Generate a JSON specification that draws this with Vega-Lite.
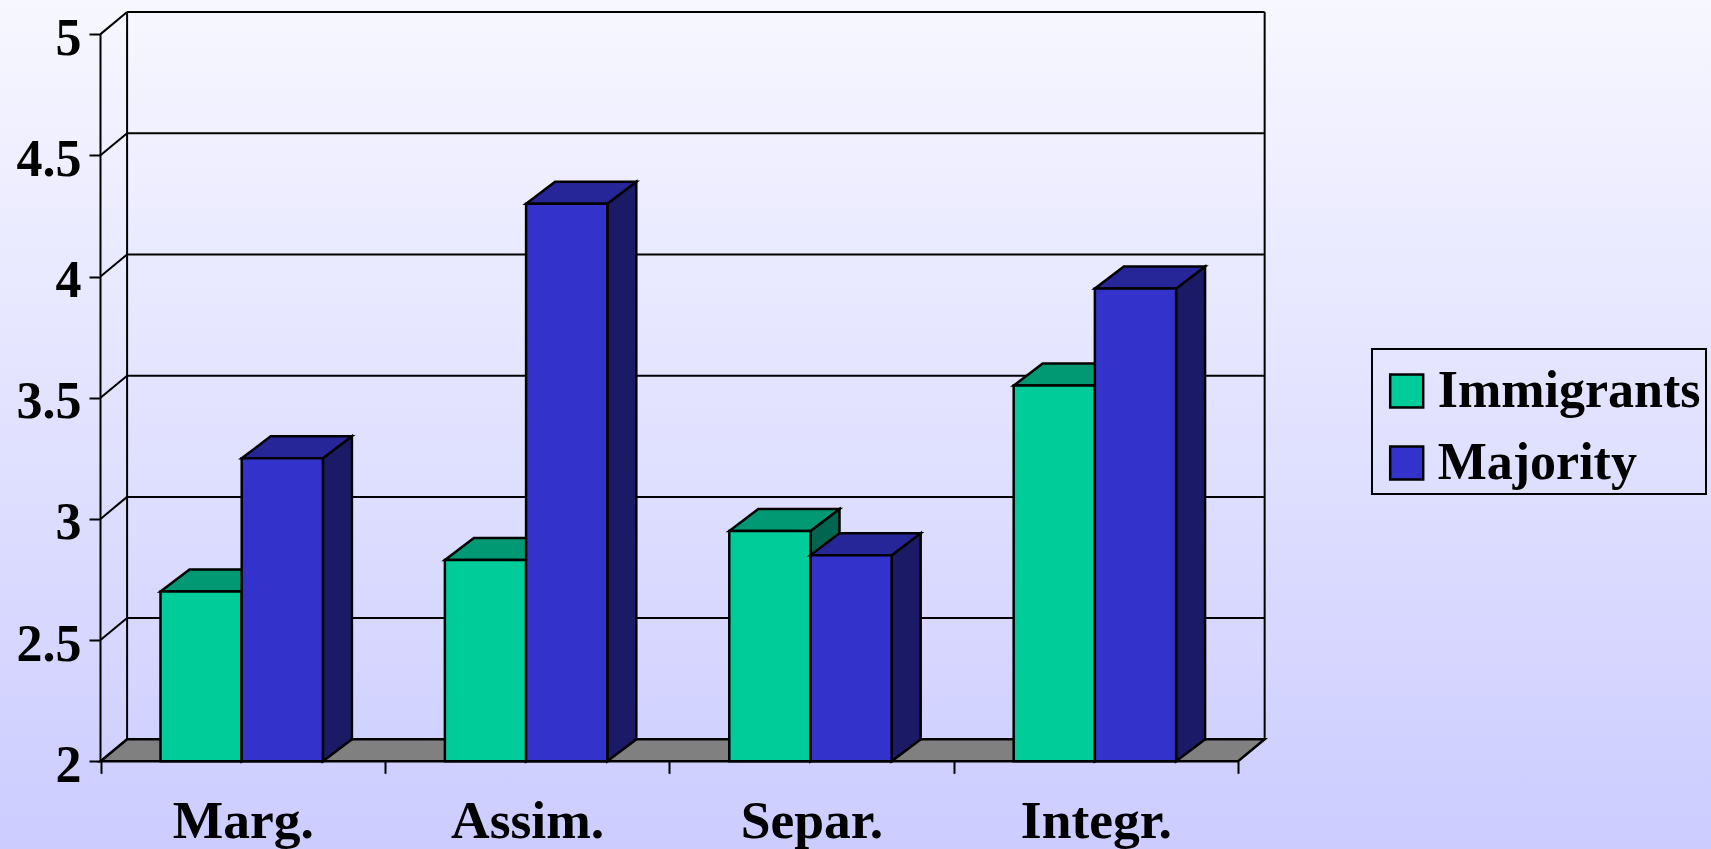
{
"$schema":"https://vega.github.io/schema/vega-lite/v6.json",
"width":1711,"height":849,"autosize":"none","padding":0,"background":"#CCCCFF",
"view":{"stroke":null,"fill":{"gradient":"linear","x1":0,"y1":0,"x2":0,"y2":1,"stops":[{"offset":0,"color":"#F7F7FF"},{"offset":1,"color":"#CCCCFF"}]}},
"config":{"font":"Liberation Serif","legend":{"strokeWidth":2}},
"datasets":{"bars":[
{"category":"Marg.","series":"Immigrants","value":2.70},
{"category":"Marg.","series":"Majority","value":3.25},
{"category":"Assim.","series":"Immigrants","value":2.83},
{"category":"Assim.","series":"Majority","value":4.30},
{"category":"Separ.","series":"Immigrants","value":2.95},
{"category":"Separ.","series":"Majority","value":2.85},
{"category":"Integr.","series":"Immigrants","value":3.55},
{"category":"Integr.","series":"Majority","value":3.95}
],
"levels":[{"level":2},{"level":2.5},{"level":3},{"level":3.5},{"level":4},{"level":4.5},{"level":5}]},
"encoding":{
"x":{"field":"px","type":"quantitative","scale":{"domain":[-0.3534,5.663],"nice":false,"zero":false},
"axis":{"title":null,"offset":-87.7,"grid":false,"domain":false,"values":[0,0.5,1,1.5,2,2.5,3,3.5,4],
"tickColor":"black","tickWidth":2,"tickSize":12,"tickOpacity":{"condition":{"test":"datum.value % 1 == 0","value":1},"value":0},
"labelExpr":"datum.value==0.5?'Marg.':datum.value==1.5?'Assim.':datum.value==2.5?'Separ.':datum.value==3.5?'Integr.':''",
"labelFont":"Liberation Serif","labelFontWeight":"bold","labelFontSize":53.5,"labelColor":"black","labelPadding":22,"labelOverlap":false,"labelFlush":false,"labelBound":false}},
"y":{"field":"py","type":"quantitative","scale":{"domain":[1.6382,5.1407],"nice":false,"zero":false},
"axis":{"title":null,"offset":-100.5,"grid":false,"domain":false,"values":[2,2.5,3,3.5,4,4.5,5],"format":"~g",
"tickColor":"black","tickWidth":2,"tickSize":11.5,"labelFont":"Liberation Serif","labelFontWeight":"bold","labelFontSize":52,"labelColor":"black","labelPadding":8,"labelOffset":4,"labelOverlap":false,"labelBound":false}},
"y2":{"field":"py2"}
},
"layer":[
{"data":{"values":[{"level":2}]},
"transform":[{"calculate":"[0,0.0935,4,4.0935]","as":"px"},{"flatten":["px"]},
{"calculate":"datum.px>4 ? 2.0908 : 2","as":"py"},{"calculate":"datum.px==0 ? 2 : 2.0908","as":"py2"}],
"mark":{"type":"area","fill":"#808080","stroke":"black","strokeWidth":2.5}},
{"data":{"name":"levels"},"transform":[{"filter":"datum.level>2"},{"calculate":"0.0935","as":"px"},{"calculate":"4.0935","as":"px2"},{"calculate":"datum.level+0.0908","as":"py"},{"calculate":"datum.py","as":"py2"}],
"mark":{"type":"rule","color":"black","strokeWidth":2},"encoding":{"x2":{"field":"px2"}}},
{"data":{"name":"levels"},"transform":[{"calculate":"0","as":"px"},{"calculate":"0.0935","as":"px2"},{"calculate":"datum.level","as":"py"},{"calculate":"datum.level+0.0908","as":"py2"}],
"mark":{"type":"rule","color":"black","strokeWidth":2},"encoding":{"x2":{"field":"px2"}}},
{"data":{"values":[{"edge":"axis","px":0,"py":2,"py2":5},{"edge":"back left","px":0.0935,"py":2.0908,"py2":5.0908},{"edge":"back right","px":4.0935,"py":2.0908,"py2":5.0908}]},
"mark":{"type":"rule","color":"black","strokeWidth":2}},

{"data":{"name":"bars"},"transform":[{"filter":"datum.series=='Immigrants'"},
{"calculate":"indexof(['Marg.','Assim.','Separ.','Integr.'],datum.category)+0.211","as":"left"},{"calculate":"datum.left+0.2855","as":"right"},
{"calculate":"[datum.right,datum.right+0.102]","as":"px"},{"flatten":["px"]},
{"calculate":"datum.px>datum.right ? 2.0908 : 2","as":"py"},{"calculate":"datum.px>datum.right ? datum.value+0.0908 : datum.value","as":"py2"}],
"mark":{"type":"area","fill":"#006650","stroke":"black","strokeWidth":2.5},"encoding":{"detail":{"field":"category"}}},
{"data":{"name":"bars"},"transform":[{"filter":"datum.series=='Immigrants'"},
{"calculate":"indexof(['Marg.','Assim.','Separ.','Integr.'],datum.category)+0.211","as":"left"},{"calculate":"datum.left+0.2855","as":"right"},
{"calculate":"[datum.left,datum.left+0.102,datum.right,datum.right+0.102]","as":"px"},{"flatten":["px"]},
{"calculate":"datum.px>datum.right ? datum.value+0.0908 : datum.value","as":"py"},{"calculate":"datum.px==datum.left ? datum.value : datum.value+0.0908","as":"py2"}],
"mark":{"type":"area","fill":"#009973","stroke":"black","strokeWidth":2.5},"encoding":{"detail":{"field":"category"}}},
{"data":{"name":"bars"},"transform":[{"filter":"datum.series=='Immigrants'"},
{"calculate":"indexof(['Marg.','Assim.','Separ.','Integr.'],datum.category)+0.211","as":"px"},{"calculate":"datum.px+0.2855","as":"right"},
{"calculate":"datum.value","as":"py"},{"calculate":"2","as":"py2"}],
"mark":{"type":"rect","stroke":"black","strokeWidth":2.5},
"encoding":{"x2":{"field":"right"},"color":{"field":"series","type":"nominal","scale":{"domain":["Immigrants","Majority"],"range":["#00CC99","#3333CC"]},
"legend":{"title":"\u2003\u2003\u2003\u2003\u2003\u2003\u2003\u2003\u2003\u2003\u2003\u2003\u2003\u2003\u2003\u2003\u2003\u2003\u2003\u2003\u2003\u2003\u2003\u2003\u2003\u2003\u2003\u2003\u00a0\u00a0","titleFontSize":11.5,"titleLimit":500,"titlePadding":0,"titleOpacity":0,"orient":"none","legendX":1372,"legendY":349,"symbolType":"square","symbolSize":1089,"symbolStrokeColor":"black","symbolStrokeWidth":2.5,"symbolOpacity":1,"symbolOffset":4.2,
"labelFont":"Liberation Serif","labelFontWeight":"bold","labelFontSize":52,"labelColor":"black","labelLimit":400,"padding":4.5,"rowPadding":20,"strokeColor":"black","labelOffset":5}}}},

{"data":{"name":"bars"},"transform":[{"filter":"datum.series=='Majority'"},
{"calculate":"indexof(['Marg.','Assim.','Separ.','Integr.'],datum.category)+0.4965","as":"left"},{"calculate":"datum.left+0.2855","as":"right"},
{"calculate":"[datum.right,datum.right+0.102]","as":"px"},{"flatten":["px"]},
{"calculate":"datum.px>datum.right ? 2.0908 : 2","as":"py"},{"calculate":"datum.px>datum.right ? datum.value+0.0908 : datum.value","as":"py2"}],
"mark":{"type":"area","fill":"#1A1A66","stroke":"black","strokeWidth":2.5},"encoding":{"detail":{"field":"category"}}},
{"data":{"name":"bars"},"transform":[{"filter":"datum.series=='Majority'"},
{"calculate":"indexof(['Marg.','Assim.','Separ.','Integr.'],datum.category)+0.4965","as":"left"},{"calculate":"datum.left+0.2855","as":"right"},
{"calculate":"[datum.left,datum.left+0.102,datum.right,datum.right+0.102]","as":"px"},{"flatten":["px"]},
{"calculate":"datum.px>datum.right ? datum.value+0.0908 : datum.value","as":"py"},{"calculate":"datum.px==datum.left ? datum.value : datum.value+0.0908","as":"py2"}],
"mark":{"type":"area","fill":"#262699","stroke":"black","strokeWidth":2.5},"encoding":{"detail":{"field":"category"}}},
{"data":{"name":"bars"},"transform":[{"filter":"datum.series=='Majority'"},
{"calculate":"indexof(['Marg.','Assim.','Separ.','Integr.'],datum.category)+0.4965","as":"px"},{"calculate":"datum.px+0.2855","as":"right"},
{"calculate":"datum.value","as":"py"},{"calculate":"2","as":"py2"}],
"mark":{"type":"rect","stroke":"black","strokeWidth":2.5},
"encoding":{"x2":{"field":"right"},"color":{"field":"series","type":"nominal","scale":{"domain":["Immigrants","Majority"],"range":["#00CC99","#3333CC"]}}}}
]
}
